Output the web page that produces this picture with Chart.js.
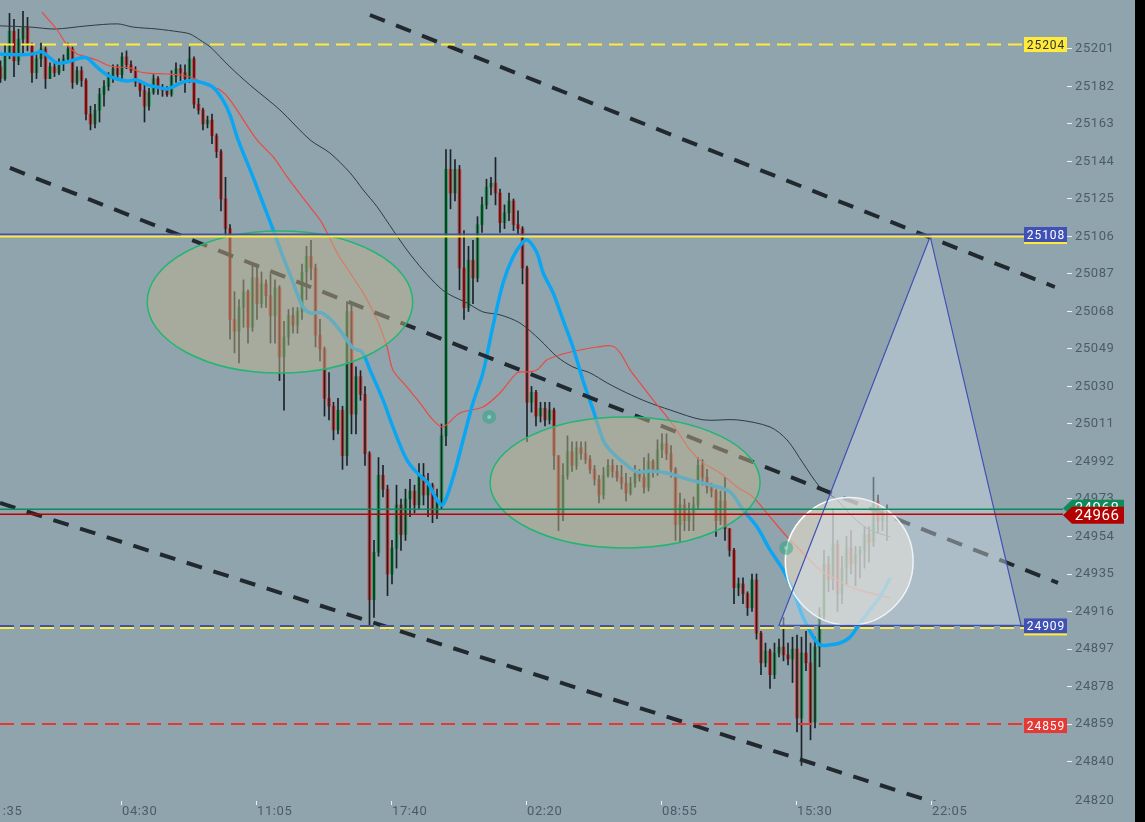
<!DOCTYPE html>
<html>
<head>
<meta charset="utf-8">
<script src="https://cdn.jsdelivr.net/npm/chart.js@4.4.1/dist/chart.umd.min.js"></script>
<style>
  html, body { margin: 0; padding: 0; background: #000; }
  #wrap { width: 1135px; height: 822px; background: #90a4ae; }
</style>
</head>
<body>
<div id="wrap"><canvas id="chart" width="1135" height="822"></canvas></div>
<script>
// bar index of the first candle (the 04:30 tick sits at index 0, one tick = 30 bars)
const firstBar = -27;

const opens = [
  25192, 25186, 25198, 25210, 25195, 25206, 25212, 25203, 25189, 25196,
  25201, 25186, 25192, 25189, 25194, 25196, 25201, 25184, 25190, 25185,
  25168, 25163, 25170, 25178, 25182, 25187, 25191, 25188, 25197, 25193,
  25190, 25184, 25180, 25172, 25179, 25186, 25181, 25180, 25178, 25187,
  25191, 25189, 25186, 25196, 25173, 25170, 25163, 25165, 25157, 25149,
  25125, 25110, 25064, 25058, 25070, 25078, 25060, 25085, 25072, 25082,
  25076, 25066, 25080, 25045, 25055, 25066, 25061, 25068, 25088, 25096,
  25090, 25056, 25049, 25024, 25020, 25008, 25018, 24995, 25068, 25016,
  25035, 25026, 24996, 24922, 24946, 24985, 24978, 24935, 24948, 24970,
  24955, 24973, 24977, 24970, 24985, 24975, 24980, 24965, 24972, 25005,
  25140, 25128, 25140, 25090, 25070, 25094, 25085, 25112, 25122, 25131,
  25133, 25128, 25113, 25118, 25124, 25112, 25110, 25090, 25022, 25027,
  25015, 25019, 25013, 25018, 24995, 24965, 24985, 24997, 24990, 24999,
  24996, 24993, 24988, 24983, 24975, 24985, 24990, 24987, 24984, 24981,
  24976, 24981, 24986, 24984, 24979, 24992, 24987, 24998, 25001, 24996,
  24988, 24960, 24970, 24962, 24966, 24970, 24990, 24984, 24979, 24977,
  24962, 24972, 24958, 24947, 24928, 24930, 24925, 24918, 24932, 24905,
  24890, 24896, 24884, 24895, 24898, 24894, 24892, 24897, 24862, 24895,
  24890, 24860, 24898, 24914, 24940, 24932, 24950, 24925, 24938, 24948,
  24940, 24945, 24947, 24955, 24951, 24972, 24962, 24966
];
const highs = [
  25195, 25203, 25219, 25216, 25211, 25220, 25217, 25204, 25198, 25204,
  25202, 25194, 25194, 25196, 25198, 25204, 25202, 25192, 25192, 25186,
  25172, 25173, 25181, 25185, 25189, 25193, 25193, 25199, 25200, 25195,
  25192, 25185, 25183, 25181, 25188, 25187, 25183, 25182, 25190, 25194,
  25193, 25193, 25202, 25197, 25176, 25171, 25167, 25168, 25158, 25150,
  25136, 25112, 25078, 25074, 25084, 25079, 25091, 25092, 25088, 25084,
  25087, 25084, 25081, 25063, 25069, 25070, 25070, 25092, 25101, 25104,
  25092, 25064, 25050, 25037, 25022, 25024, 25020, 25073, 25072, 25040,
  25038, 25030, 24997, 24952, 24994, 24990, 24980, 24952, 24980, 24973,
  24978, 24983, 24980, 24991, 24991, 24986, 24981, 24978, 25011, 25150,
  25150, 25145, 25142, 25109, 25101, 25104, 25116, 25126, 25135, 25136,
  25146, 25130, 25122, 25128, 25125, 25119, 25111, 25091, 25030, 25028,
  25022, 25022, 25022, 25019, 24995, 24991, 25005, 25002, 25002, 25002,
  25002, 24995, 24990, 24985, 24989, 24993, 24993, 24990, 24990, 24986,
  24984, 24990, 24988, 24994, 24996, 24993, 25003, 25006, 25006, 25000,
  24989, 24976, 24973, 24971, 24974, 24994, 24993, 24988, 24981, 24978,
  24977, 24984, 24958, 24948, 24933, 24933, 24926, 24935, 24935, 24906,
  24900, 24897, 24900, 24902, 24913, 24900, 24903, 24904, 24903, 24906,
  24900, 24903, 24918, 24947, 24944, 24968, 24952, 24944, 24954, 24957,
  24949, 24949, 24959, 24959, 24984, 24975, 24968, 24970
];
const lows = [
  25184, 25185, 25196, 25187, 25193, 25199, 25200, 25184, 25186, 25192,
  25181, 25186, 25187, 25188, 25190, 25195, 25181, 25183, 25182, 25165,
  25160, 25161, 25164, 25172, 25180, 25184, 25185, 25186, 25191, 25189,
  25182, 25177, 25164, 25170, 25178, 25178, 25177, 25177, 25177, 25184,
  25185, 25179, 25184, 25171, 25168, 25160, 25161, 25153, 25146, 25119,
  25106, 25054, 25047, 25042, 25060, 25052, 25058, 25064, 25070, 25070,
  25052, 25052, 25033, 25018, 25051, 25057, 25057, 25064, 25074, 25084,
  25050, 25043, 25015, 25013, 25003, 25006, 24988, 24990, 25006, 25006,
  25023, 24990, 24908, 24913, 24944, 24974, 24924, 24930, 24938, 24947,
  24952, 24964, 24966, 24968, 24970, 24964, 24961, 24963, 24968, 25000,
  25120, 25124, 25079, 25064, 25068, 25072, 25083, 25108, 25120, 25127,
  25122, 25108, 25110, 25114, 25109, 25107, 25082, 25002, 25017, 25010,
  25012, 25010, 25011, 24988, 24957, 24962, 24983, 24987, 24988, 24993,
  24991, 24986, 24980, 24971, 24973, 24984, 24984, 24982, 24978, 24972,
  24975, 24979, 24982, 24976, 24977, 24984, 24985, 24994, 24993, 24984,
  24952, 24951, 24957, 24957, 24957, 24968, 24980, 24976, 24974, 24954,
  24960, 24952, 24944, 24920, 24924, 24920, 24914, 24916, 24902, 24884,
  24888, 24877, 24882, 24893, 24891, 24889, 24880, 24855, 24838, 24886,
  24851, 24857, 24888, 24912, 24926, 24927, 24916, 24920, 24930, 24935,
  24929, 24933, 24938, 24941, 24949, 24956, 24957, 24952
];
const closes = [
  25186, 25198, 25210, 25195, 25206, 25212, 25203, 25189, 25196, 25201,
  25186, 25192, 25189, 25194, 25196, 25201, 25184, 25190, 25185, 25168,
  25163, 25170, 25178, 25182, 25187, 25191, 25188, 25197, 25193, 25190,
  25184, 25180, 25172, 25179, 25186, 25181, 25180, 25178, 25187, 25191,
  25189, 25186, 25196, 25173, 25170, 25163, 25165, 25157, 25149, 25125,
  25110, 25064, 25058, 25070, 25078, 25060, 25085, 25072, 25082, 25076,
  25066, 25080, 25045, 25055, 25066, 25061, 25068, 25088, 25096, 25090,
  25056, 25049, 25024, 25020, 25008, 25018, 24995, 25068, 25016, 25035,
  25026, 24996, 24922, 24946, 24985, 24978, 24935, 24948, 24970, 24955,
  24973, 24977, 24970, 24985, 24975, 24980, 24965, 24972, 25005, 25140,
  25128, 25140, 25090, 25070, 25094, 25085, 25112, 25122, 25131, 25133,
  25128, 25113, 25118, 25124, 25112, 25110, 25090, 25022, 25027, 25015,
  25019, 25013, 25018, 24995, 24965, 24985, 24997, 24990, 24999, 24996,
  24993, 24988, 24983, 24975, 24985, 24990, 24987, 24984, 24981, 24976,
  24981, 24986, 24984, 24979, 24992, 24987, 24998, 25001, 24996, 24988,
  24960, 24970, 24962, 24966, 24970, 24990, 24984, 24979, 24977, 24962,
  24972, 24958, 24947, 24928, 24930, 24925, 24918, 24932, 24905, 24890,
  24896, 24884, 24895, 24898, 24894, 24892, 24897, 24862, 24895, 24890,
  24860, 24898, 24914, 24940, 24932, 24950, 24925, 24938, 24948, 24940,
  24945, 24947, 24955, 24951, 24972, 24962, 24966, 24966
];

// moving averages, [bar index, price]
const fastMa = [
  [-27.1, 25198.5], [-22.7, 25198], [-19.8, 25198.5], [-17.8, 25199.5], [-16, 25196.4], [-14.4, 25193.9],
  [-12.2, 25194.4], [-9.3, 25196.4], [-7.8, 25196.4], [-5.6, 25191.9], [-3.3, 25187.8], [-1.1, 25185.8],
  [1.1, 25184.8], [3.3, 25185.3], [5.6, 25182.8], [7.8, 25181.7], [10, 25180.7], [12.2, 25182.8],
  [14.4, 25184.8], [16.2, 25184.8], [18, 25183.8], [20.2, 25181.7], [22.4, 25175.2], [24, 25167.6],
  [25.8, 25154.9], [29.1, 25136.2], [31.3, 25123], [33.6, 25109.3], [35.8, 25095.6], [37.8, 25084],
  [40.2, 25070.3], [41.8, 25067.3], [44.4, 25067.3], [46.9, 25062.7], [50, 25053.6], [51.3, 25049.5],
  [53.3, 25047.5], [55.1, 25038.4], [58, 25023.2], [60.2, 25009.5], [63.3, 24992.8], [65.6, 24986.2],
  [68, 24981.1], [70, 24972.5], [71.3, 24970], [73.6, 24984.2], [75.8, 25002.9], [78, 25021.7],
  [80.2, 25036.9], [82.4, 25060.2], [84.7, 25082.5], [86.9, 25095.6], [89.1, 25103.2], [90.2, 25104.2],
  [92.2, 25097.7], [93.6, 25087.5], [95.8, 25077.4], [98, 25063.7], [100.2, 25050], [102.4, 25033.3],
  [104.7, 25018.1], [106.9, 25002.9], [108.4, 24997.9], [111.3, 24991.8], [114.4, 24986.7], [117.3, 24987.2],
  [121.1, 24986.2], [124, 24984.2], [126.2, 24982.7], [130.7, 24980.1], [135.1, 24976.6], [138, 24967.5],
  [141.1, 24958.9], [144, 24947.2], [146.9, 24937.1], [149.1, 24926.9], [151.3, 24913.3], [153.6, 24903.1],
  [155.1, 24899.1], [157.3, 24899.1], [159.6, 24900.1], [161.8, 24903.1], [164, 24910.2], [166.2, 24916.8],
  [168.4, 24923.4], [170.7, 24933]
];
const midMa = [
  [-17.8, 25219.7], [-14.4, 25210.6], [-12.2, 25203], [-10, 25198.5], [-8.7, 25197.5], [-5.6, 25195.4],
  [-3.3, 25192.9], [-1.6, 25191.9], [1.8, 25191.4], [4, 25189.3], [5.6, 25188.8], [10, 25188.3],
  [12.9, 25187.8], [15.8, 25186.3], [18.9, 25182.8], [21.8, 25180.2], [24, 25175.2], [30, 25154.9],
  [33.6, 25146.3], [36.7, 25136.2], [41.1, 25123], [44, 25114.4], [45.6, 25107.8], [47.8, 25097.7],
  [50.7, 25087.5], [53.6, 25077.4], [56.7, 25063.7], [58.9, 25050], [60.2, 25038.4], [63.3, 25029.8],
  [66.2, 25021.7], [69.1, 25013.1], [71.3, 25009.5], [75.1, 25016.6], [80.2, 25019.6], [84, 25026.7],
  [87.8, 25036.9], [90, 25037.4], [92.2, 25038.4], [94.4, 25043.4], [97.3, 25046], [101.8, 25048.5],
  [105.6, 25050], [108.9, 25050.5], [110.7, 25047], [112.9, 25038.4], [115.1, 25031.8], [118, 25023.2],
  [121.1, 25014.6], [124, 25005.5], [126.2, 24997.9], [129.1, 24991.3], [132.9, 24986.2], [136.7, 24979.1],
  [140.2, 24974], [144, 24963.9], [147.8, 24953.8], [151.3, 24945.7], [155.1, 24937.1], [158.9, 24932],
  [162.4, 24927.9], [166.2, 24925.4], [170.7, 24922.9]
];
const slowMa = [
  [-27.1, 25212.7], [-20.4, 25212.1], [-14.9, 25211.1], [-7.8, 25212.7], [-0.9, 25213.7], [2.4, 25212.1],
  [7.8, 25211.1], [12.9, 25209.6], [15.1, 25208.6], [17.3, 25205.6], [19.6, 25202], [21.8, 25197],
  [24, 25191.9], [28.4, 25182.8], [35.1, 25170.1], [41.8, 25154.9], [46.2, 25148.3], [50.7, 25138.2],
  [53.6, 25129.6], [56.7, 25121], [60.2, 25109.3], [63.3, 25099.2], [66.9, 25089], [70.7, 25079.9],
  [72.9, 25076.4], [76.7, 25072.3], [80.2, 25067.8], [84, 25066.3], [88.4, 25062.2], [92.9, 25053.6],
  [96.7, 25045], [100.2, 25039.9], [104, 25036.9], [107.8, 25031.8], [112.2, 25026.7], [116.7, 25022.2],
  [121.8, 25018.1], [129.1, 25013.1], [136.7, 25013.1], [144, 25009.5], [147.8, 25002.9], [151.3, 24991.3],
  [155.1, 24979.1], [158.9, 24972.5], [162.4, 24963.9], [166.2, 24957.3], [170.7, 24953.8]
];

// dashed channel lines: start and end [bar index, price]
const trendLines = [
  [[55.1, 25218.2], [207.3, 25080.4]],
  [[-24.9, 25140.7], [208, 24930.5]],
  [[-27.1, 24971], [185, 24816]]
];

// horizontal levels
const levelPrices = [25204, 25108, 24968, 24966, 24909, 24859];

// drawn zones: ellipses (centre index, centre price, index radius, price radius)
const zoneIdx = [35.1, 111.8, 161.6];
const zonePrice = [25072.8, 24981.4, 24941.4];
const zoneIdxRadius = [29.5, 30, 14.2];
const zonePriceRadius = [36, 33.2, 32.4];
// triangle corners
const triIdx = [146, 179.6, 199.8];
const triPrice = [24909, 25106, 24909];
// marker dots
const dotIdx = [81.6, 147.6];
const dotPrice = [25014.6, 24948.2];

const timeTicks = [-30, 0, 30, 60, 90, 120, 150, 180];
const timeLabels = ['21:35', '04:30', '11:05', '17:40', '02:20', '08:55', '15:30', '22:05'];
const priceTicks = [24820, 24840, 24859, 24878, 24897, 24916, 24935, 24954, 24973, 24992,
  25011, 25030, 25049, 25068, 25087, 25106, 25125, 25144, 25163, 25182, 25201];

const textColor = '#4a5c68';
const upColor = '#27a35c';
const downColor = '#e53935';

const wickData = highs.map((h, i) => ({ x: firstBar + i, y: [lows[i], h] }));
const bodyData = opens.map((o, i) => ({ x: firstBar + i, y: [o, closes[i]] }));
const toPoints = arr => arr.map(p => ({ x: p[0], y: p[1] }));

const trendSets = trendLines.map(t => ({
  type: 'line',
  data: toPoints(t),
  borderColor: '#22292e',
  borderWidth: 4,
  borderDash: [16, 12],
  pointRadius: 0,
  order: 0
}));

const levelStyles = [
  { lines: [{ color: '#ffeb3b', width: 2, dash: [14, 7], off: 1.5 }], box: '#ffeb3b', text: '#333', under: null },
  { lines: [{ color: '#3f51b5', width: 2, dash: [], off: 2 }, { color: '#ffeb3b', width: 2, dash: [], off: 4 }], box: '#3f51b5', text: '#fff', under: '#ffeb3b' },
  { lines: [{ color: '#0f8a5a', width: 1.5, dash: [], off: 0.5 }], arrow: '#0f8a5a' },
  { lines: [{ color: '#c00000', width: 1.5, dash: [], off: 1.5 }], arrow: '#b30000' },
  { lines: [{ color: '#3f51b5', width: 2, dash: [14, 6], off: 0.6 }, { color: '#ffeb3b', width: 2, dash: [14, 6], off: 2.6 }], box: '#3f51b5', text: '#fff', under: '#ffeb3b' },
  { lines: [{ color: '#e53935', width: 2, dash: [14, 7], off: 0 }], box: '#e53935', text: '#fff', under: null }
];

const overlays = {
  id: 'overlays',
  beforeDraw(chart) {
    chart.ctx.letterSpacing = '0.6px';
  },
  afterDatasetsDraw(chart) {
    const { ctx, chartArea: a, scales: { x, y } } = chart;
    ctx.save();
    ctx.beginPath();
    ctx.rect(a.left, a.top, a.width, a.height);
    ctx.clip();

    // ellipses and circle
    const fills = ['rgba(190,178,140,0.5)', 'rgba(190,178,140,0.5)', 'rgba(228,220,200,0.62)'];
    const strokes = ['#22b573', '#22b573', '#ffffff'];
    for (let i = 0; i < zoneIdx.length; i++) {
      const cx = x.getPixelForValue(zoneIdx[i]);
      const cy = y.getPixelForValue(zonePrice[i]);
      const rx = Math.abs(x.getPixelForValue(zoneIdx[i] + zoneIdxRadius[i]) - cx);
      const ry = Math.abs(y.getPixelForValue(zonePrice[i] + zonePriceRadius[i]) - cy);
      ctx.beginPath();
      ctx.ellipse(cx, cy, rx, ry, 0, 0, Math.PI * 2);
      ctx.fillStyle = fills[i];
      ctx.fill();
      ctx.lineWidth = 1.5;
      ctx.strokeStyle = strokes[i];
      ctx.stroke();
    }

    // triangle
    ctx.beginPath();
    triIdx.forEach((t, i) => {
      const px = x.getPixelForValue(t), py = y.getPixelForValue(triPrice[i]);
      if (i === 0) ctx.moveTo(px, py); else ctx.lineTo(px, py);
    });
    ctx.closePath();
    ctx.fillStyle = 'rgba(214,224,234,0.42)';
    ctx.fill();
    ctx.lineWidth = 1.2;
    ctx.strokeStyle = '#3f51b5';
    ctx.stroke();

    // dots
    dotIdx.forEach((d, i) => {
      const px = x.getPixelForValue(d), py = y.getPixelForValue(dotPrice[i]);
      ctx.beginPath();
      ctx.arc(px, py, 7, 0, Math.PI * 2);
      ctx.fillStyle = 'rgba(38,166,130,0.5)';
      ctx.fill();
      ctx.beginPath();
      ctx.arc(px, py, 2, 0, Math.PI * 2);
      ctx.fillStyle = 'rgba(170,220,200,0.7)';
      ctx.fill();
    });

    // horizontal levels
    levelPrices.forEach((p, i) => {
      const st = levelStyles[i];
      const py = y.getPixelForValue(p);
      const end = st.arrow ? a.right - 4 : a.right - 43;
      st.lines.forEach(l => {
        ctx.beginPath();
        ctx.setLineDash(l.dash);
        ctx.lineWidth = l.width;
        ctx.strokeStyle = l.color;
        ctx.moveTo(a.left, py + l.off);
        ctx.lineTo(end, py + l.off);
        ctx.stroke();
      });
    });
    ctx.setLineDash([]);
    ctx.restore();
  },
  afterDraw(chart) {
    const { ctx, chartArea: a, scales: { y } } = chart;
    ctx.save();
    ctx.textAlign = 'center';
    ctx.textBaseline = 'middle';
    levelPrices.forEach((p, i) => {
      const st = levelStyles[i];
      const py = y.getPixelForValue(p);
      if (st.arrow) {
        const cy = py + st.lines[0].off + (i === 3 ? 1 : -1);
        const h = 17;
        ctx.beginPath();
        ctx.moveTo(a.right - 4, cy);
        ctx.lineTo(a.right + 5, cy - h / 2);
        ctx.lineTo(a.right + 57, cy - h / 2);
        ctx.lineTo(a.right + 57, cy + h / 2);
        ctx.lineTo(a.right + 5, cy + h / 2);
        ctx.closePath();
        ctx.fillStyle = st.arrow;
        ctx.fill();
        ctx.fillStyle = '#fff';
        ctx.font = '15px Roboto';
        ctx.letterSpacing = '0.5px';
        ctx.fillText(String(p), a.right + 30, cy + 1);
        return;
      }
      const cy = py + (st.under ? st.lines[0].off : 1.5);
      const left = a.right - 43;
      ctx.fillStyle = st.box;
      ctx.fillRect(left, cy - 7.5, 43, 15);
      if (st.under) {
        ctx.fillStyle = st.under;
        ctx.fillRect(left, cy + 7.5, 43, 2);
      }
      ctx.fillStyle = st.text;
      ctx.font = '12px Roboto';
      ctx.letterSpacing = '1px';
      ctx.fillText(String(p), left + 22, cy + 1);
    });
    ctx.restore();
  }
};

new Chart(document.getElementById('chart'), {
  type: 'bar',
  data: {
    datasets: [
      ...trendSets,
      {
        type: 'line', data: toPoints(fastMa), borderColor: '#0aa6f2', borderWidth: 3.5,
        pointRadius: 0, tension: 0.35, order: 1
      },
      {
        type: 'line', data: toPoints(midMa), borderColor: '#ea4a40', borderWidth: 1.2,
        pointRadius: 0, tension: 0.3, order: 2
      },
      {
        type: 'line', data: toPoints(slowMa), borderColor: '#2e3a42', borderWidth: 1,
        pointRadius: 0, tension: 0.3, order: 3
      },
      {
        data: wickData, backgroundColor: '#1c2226', barThickness: 1, grouped: false, order: 4
      },
      {
        data: bodyData, barThickness: 3, grouped: false, order: 5,
        backgroundColor: c => closes[c.dataIndex] >= opens[c.dataIndex] ? upColor : downColor
      }
    ]
  },
  options: {
    responsive: false,
    animation: false,
    events: [],
    layout: { padding: 0 },
    plugins: { legend: { display: false }, tooltip: { enabled: false } },
    scales: {
      x: {
        type: 'linear',
        offset: false,
        min: -27.11,
        max: 210,
        border: { display: false },
        grid: { offset: false, drawOnChartArea: false, tickLength: 4, color: '#eef2f4' },
        ticks: {
          align: 'start', autoSkip: false, maxRotation: 0, padding: -1,
          color: textColor, font: { family: 'Roboto', size: 13 },
          callback: v => {
            const i = timeTicks.indexOf(v);
            return i >= 0 ? timeLabels[i] : '';
          }
        },
        afterBuildTicks: s => { s.ticks = timeTicks.map(v => ({ value: v })); },
        afterFit: s => { s.height = 21; s.paddingLeft = 0; s.paddingRight = 0; }
      },
      y: {
        position: 'right',
        min: 24820,
        max: 25225.8,
        border: { display: false },
        grid: {
          drawOnChartArea: false, tickLength: 5,
          color: c => (c.tick && c.tick.value === 24820) ? 'rgba(0,0,0,0)' : '#eef2f4'
        },
        ticks: {
          padding: 3, color: textColor, font: { family: 'Roboto', size: 13 },
          callback: v => String(v)
        },
        afterBuildTicks: s => { s.ticks = priceTicks.map(v => ({ value: v })); },
        afterFit: s => { s.width = 68; s.paddingTop = 0; s.paddingBottom = 0; }
      }
    }
  },
  plugins: [overlays]
});
</script>
</body>
</html>
